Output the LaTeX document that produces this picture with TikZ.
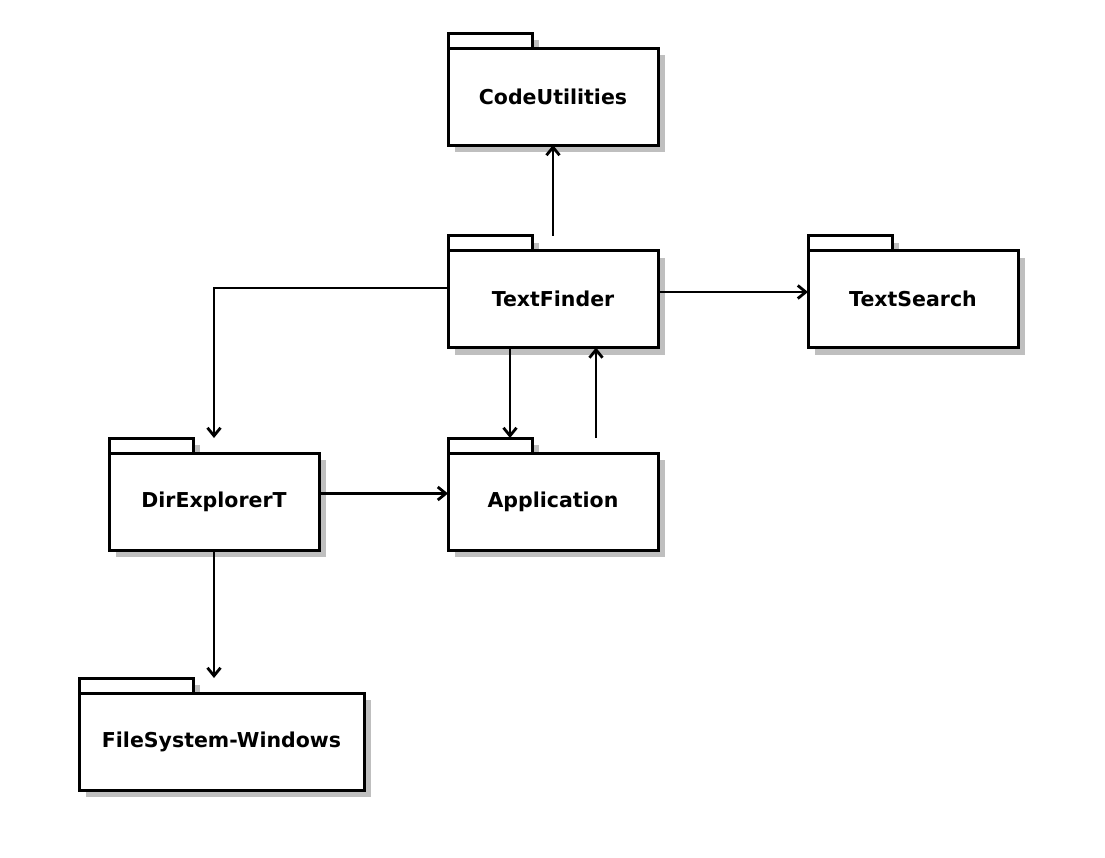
\documentclass[tikz,border=0pt]{standalone}
\usepackage{fontspec}
\setmainfont{DejaVu Sans}
\usepackage{tikz}
\usetikzlibrary{arrows.meta,positioning,backgrounds}
\definecolor{cshadow}{HTML}{BFBFBF}

% package box: name, centre, width, tab width, label
\newcommand{\umlpkg}[5]{%
  \node[pkg, minimum width=#3] (#1) at #2 {#5};
  \draw[pkgline, fill=white] (#1.north west) rectangle ++(#4,-15);
  \begin{pgfonlayer}{background}
    \fill[cshadow] ([shift={(7,7)}]#1.north west) rectangle ([shift={(7,7)}]#1.south east);
    \fill[cshadow] ([shift={(7,7)}]#1.north west) rectangle ++(#4,-15);
  \end{pgfonlayer}
}

\begin{document}
\begin{tikzpicture}[
    x=1pt, y=-1pt,
    pkgline/.style={line width=3pt},
    pkg/.style={draw, pkgline, fill=white, minimum height=97pt, inner sep=0pt, outer sep=0pt,
                font=\fontsize{20.5}{24}\selectfont\bfseries},
    dep/.style={line width=2.8pt, -{Straight Barb[length=8pt, width=13pt]}},
]
\useasboundingbox (0,0) rectangle (1105,857);

% --- packages ---
\umlpkg{cu}{(553,96.5)}{210pt}{84}{CodeUtilities}
\umlpkg{tf}{(553,299)}{210pt}{84}{TextFinder}
\umlpkg{ts}{(913,299)}{210pt}{84}{TextSearch}
\umlpkg{de}{(214,501.5)}{210pt}{84}{DirExplorerT}
\umlpkg{app}{(553,501.5)}{210pt}{84}{Application}
\umlpkg{fs}{(221.5,741.5)}{285pt}{114}{FileSystem-Windows}

\coordinate (fstab) at ([shift={(0,-15)}]fs.north);

% --- dependencies ---
\draw[dep] ([shift={(0,-15)}]tf.north) -- (cu.south);
\draw[dep] ([shift={(0,-7)}]tf.east) -- ([shift={(0,-7)}]ts.west);
\draw[dep] ([shift={(0,-11)}]tf.west) -| ([shift={(0,-15)}]de.north);
\draw[dep] ([shift={(-43,0)}]tf.south) -- ([shift={(-43,-15)}]app.north);
\draw[dep] ([shift={(43,-15)}]app.north) -- ([shift={(43,0)}]tf.south);
\draw[dep] ([shift={(0,-8)}]de.east) -- ([shift={(0,-8)}]app.west);
\draw[dep] (de.south) -- (de.south |- fstab);

\end{tikzpicture}
\end{document}
